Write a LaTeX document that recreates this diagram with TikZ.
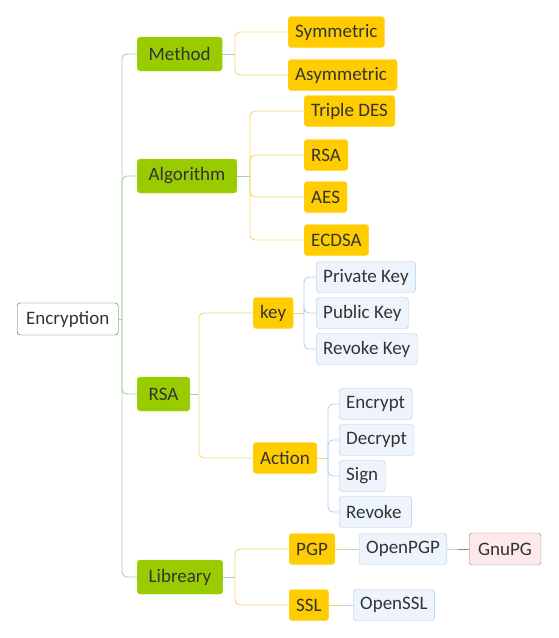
\documentclass[tikz,border=0pt]{standalone}
\usepackage{fontspec}
\setmainfont{Carlito}
\usetikzlibrary{calc,positioning}
\definecolor{mgreen}{HTML}{99CC00}
\definecolor{myellow}{HTML}{FFCC00}
\definecolor{mblue}{HTML}{EEF4FB}
\definecolor{mbluedraw}{HTML}{A8CBEC}
\definecolor{mpink}{HTML}{FDE9E9}
\definecolor{gline}{HTML}{A2D69A}
\definecolor{yline}{HTML}{F8D66C}
\definecolor{bline}{HTML}{B2D3F0}
\definecolor{txt}{HTML}{333333}

\begin{document}
\begin{tikzpicture}[
        x=1pt, y=-1pt,
        font=\fontsize{19}{22}\selectfont,
        every node/.style={text=txt, anchor=west, rounded corners=3pt},
        root/.style={draw=black!65, fill=white, inner xsep=9pt, minimum height=32pt},
        topic/.style={draw=mgreen!85!white, fill=mgreen, inner xsep=11.5pt, minimum height=34pt},
        sub/.style={draw=myellow!85!white, fill=myellow, inner xsep=7pt, minimum height=31pt},
        leaf/.style={draw=mbluedraw, fill=mblue, inner xsep=7pt, minimum height=31pt},
        tool/.style={draw=black!45, fill=mpink, inner xsep=9pt, minimum height=32pt},
        gwire/.style={draw=gline, line width=0.9pt, rounded corners=5pt},
        ywire/.style={draw=yline, line width=0.9pt, rounded corners=5pt},
        bwire/.style={draw=bline, line width=0.9pt, rounded corners=5pt},
        kwire/.style={draw=black!45, line width=0.9pt},
    ]
    \useasboundingbox (0,0) rectangle (558,638);

    % Root
    \node[root] (root) at (17,319) {Encryption};

    % Main topics
    \node[topic] (method) at (137,54) {Method};
    \node[topic] (alg) at (137,176) {Algorithm};
    \node[topic] (rsa) at (137,394) {RSA};
    \node[topic] (lib) at (137,577) {Libreary};

    % Method
    \node[sub] (sym) at (288,32) {Symmetric};
    \node[sub] (asym) at (288,75) {Asymmetric\,};

    % Algorithm
    \node[sub] (tdes) at (304,111) {Triple DES};
    \node[sub] (rsaalg) at (304,155) {RSA};
    \node[sub] (aes) at (304,197) {AES};
    \node[sub] (ecdsa) at (304,240) {ECDSA};

    % RSA
    \node[sub] (key) at (253,313) {key};
    \node[sub] (action) at (253,458) {Action};
    \node[leaf] (priv) at (316,277) {Private Key};
    \node[leaf] (pub) at (316,313) {Public Key};
    \node[leaf] (revkey) at (316,349) {Revoke Key};
    \node[leaf] (enc) at (339,404) {Encrypt};
    \node[leaf] (dec) at (339,440) {Decrypt};
    \node[leaf] (sign) at (339,476) {Sign};
    \node[leaf] (rev) at (339,512) {Revoke\,};

    % Libreary
    \node[sub] (pgp) at (289,549) {PGP};
    \node[sub] (ssl) at (289,605) {SSL};
    \node[leaf] (openpgp) at (359,549) {OpenPGP};
    \node[tool] (gnupg) at (469,549) {GnuPG};
    \node[leaf] (openssl) at (353,605) {OpenSSL};

    % Forks
    \coordinate (trunk) at (122,319);
    \coordinate (mfork) at (235,54);
    \coordinate (afork) at (250,176);
    \coordinate (rfork) at (199,394);
    \coordinate (kfork) at (304,313);
    \coordinate (cfork) at (328,458);
    \coordinate (lfork) at (235,577);

    % Lines
    \draw[gwire] (root.east) -- (trunk);
    \foreach \c in {method,alg,rsa,lib}
        \draw[gwire] (trunk) |- (\c.west);

    \draw[gwire] (method.east) -- (mfork);
    \foreach \c in {sym,asym}
        \draw[ywire] (mfork) |- (\c.west);

    \draw[gwire] (alg.east) -- (afork);
    \foreach \c in {tdes,rsaalg,aes,ecdsa}
        \draw[ywire] (afork) |- (\c.west);

    \draw[gwire] (rsa.east) -- (rfork);
    \foreach \c in {key,action}
        \draw[ywire] (rfork) |- (\c.west);

    \draw[ywire] (key.east) -- (kfork);
    \foreach \c in {priv,pub,revkey}
        \draw[bwire] (kfork) |- (\c.west);

    \draw[ywire] (action.east) -- (cfork);
    \foreach \c in {enc,dec,sign,rev}
        \draw[bwire] (cfork) |- (\c.west);

    \draw[gwire] (lib.east) -- (lfork);
    \foreach \c in {pgp,ssl}
        \draw[ywire] (lfork) |- (\c.west);

    \draw[ywire] (pgp.east) -- ($(pgp.east)!0.5!(openpgp.west)$);
    \draw[bwire] ($(pgp.east)!0.5!(openpgp.west)$) -- (openpgp.west);
    \draw[bwire] (openpgp.east) -- ($(openpgp.east)!0.5!(gnupg.west)$);
    \draw[kwire] ($(openpgp.east)!0.5!(gnupg.west)$) -- (gnupg.west);
    \draw[ywire] (ssl.east) -- ($(ssl.east)!0.5!(openssl.west)$);
    \draw[bwire] ($(ssl.east)!0.5!(openssl.west)$) -- (openssl.west);

\end{tikzpicture}
\end{document}
